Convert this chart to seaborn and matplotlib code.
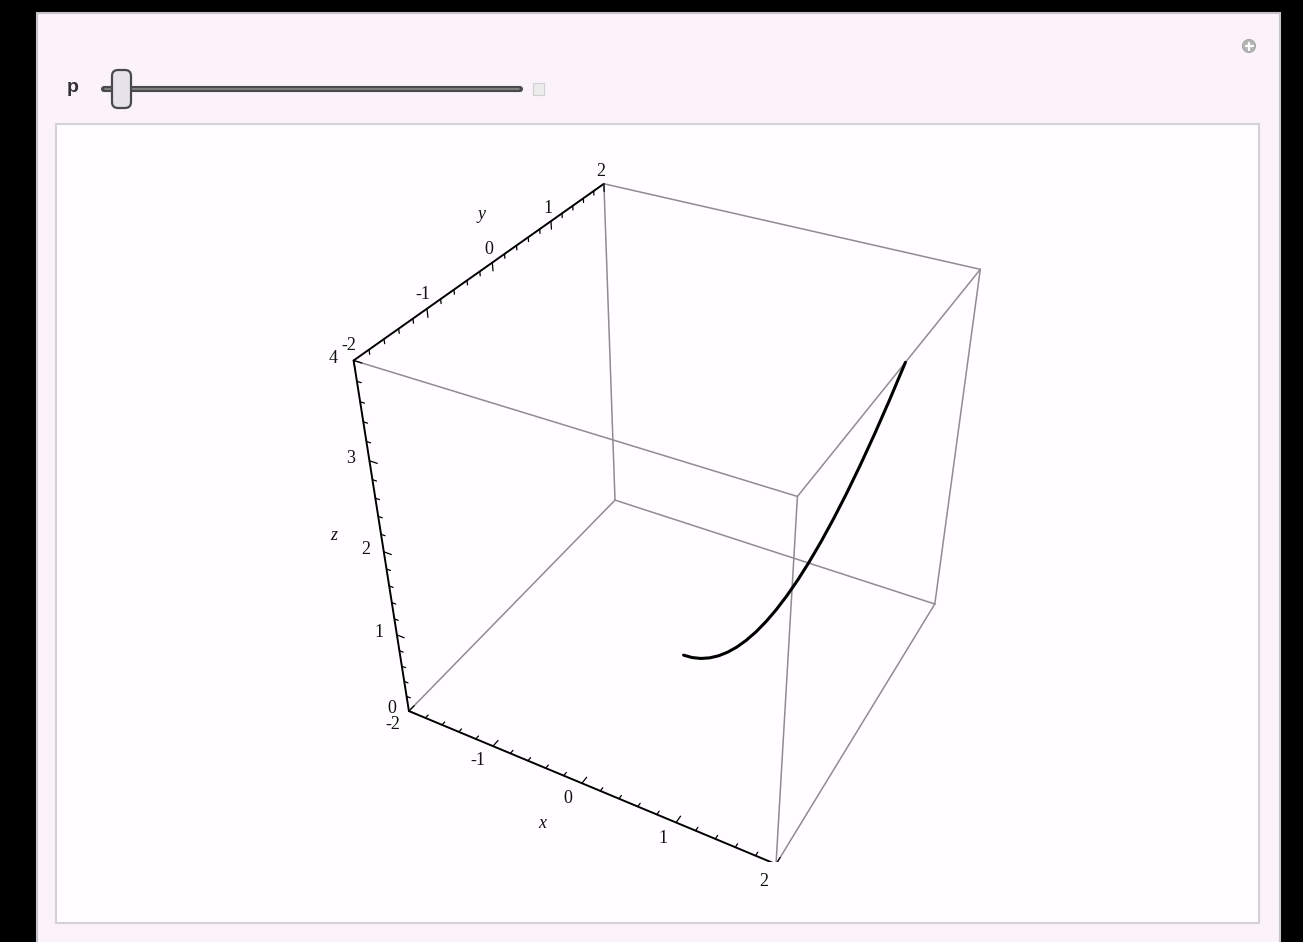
import numpy as np
import matplotlib
matplotlib.use("Agg")
import matplotlib.pyplot as plt
import seaborn as sns
from matplotlib.patches import Rectangle, FancyBboxPatch, Circle
from matplotlib.lines import Line2D
from matplotlib.transforms import Affine2D

# ---------------- data ----------------
x_range = [-2, 2]
y_range = [-2, 2]
z_range = [0, 4]
x_ticks = [-2, -1, 0, 1, 2]
y_ticks = [-2, -1, 0, 1, 2]
z_ticks = [0, 1, 2, 3, 4]
x_tick_labels = ["-2", "-1", "0", "1", "2"]
y_tick_labels = ["-2", "-1", "0", "1", "2"]
z_tick_labels = ["0", "1", "2", "3", "4"]
axis_labels = ["x", "y", "z"]
slider_label = "p"

curve_x = [0.0, 0.1, 0.2, 0.3, 0.4, 0.5, 0.6, 0.7, 0.8, 0.9, 1.0,
           1.1, 1.2, 1.3, 1.4, 1.5, 1.6, 1.7, 1.8, 1.9, 2.0]
curve_y = [0.0, 0.0, 0.001, 0.003, 0.005, 0.008, 0.011, 0.015, 0.019, 0.024, 0.03,
           0.036, 0.043, 0.051, 0.059, 0.068, 0.077, 0.087, 0.097, 0.108, 0.12]
curve_z = [0.0, 0.01, 0.04, 0.09, 0.16, 0.25, 0.36, 0.49, 0.64, 0.81, 1.0,
           1.21, 1.44, 1.69, 1.96, 2.25, 2.56, 2.89, 3.24, 3.61, 4.0]

sns.set_theme(style="white")
plt.rcParams["font.family"] = ["Liberation Serif", "DejaVu Serif"]

W, H = 1303, 942
fig = plt.figure(figsize=(W / 100, H / 100), dpi=100)
fig.patch.set_facecolor("black")
pix = Affine2D().scale(1, -1).translate(0, H)   # image pixels, y downward

# ---- window frame (Manipulate panel) ----
fig.add_artist(Rectangle((37, 13), 1243, 940, transform=pix, facecolor="#fbf2fa",
                         edgecolor="#c4c4c8", lw=1.5, zorder=-10))
fig.add_artist(Rectangle((56, 124), 1203, 799, transform=pix, facecolor="#fffdff",
                         edgecolor="#d4d2d6", lw=1.5, zorder=-9))
# slider
fig.add_artist(Line2D([104, 520], [89, 89], transform=pix, color="#4a4a4a", lw=4.4,
                      solid_capstyle="round", zorder=-6))
fig.add_artist(Line2D([105, 519], [89, 89], transform=pix, color="#8a8a8c", lw=1.2,
                      solid_capstyle="round", zorder=-5))
fig.add_artist(FancyBboxPatch((112, 70), 19, 38, boxstyle="round,pad=0,rounding_size=6",
                              transform=pix, facecolor="#e6e4ea", edgecolor="#4a4a4a",
                              lw=1.6, zorder=-4))
fig.text(73 / W, 1 - 88 / H, slider_label, family=["Liberation Sans"], fontsize=14,
         weight="bold", color="#333333", ha="center", va="center")
fig.add_artist(Rectangle((533, 83), 11, 12, transform=pix, facecolor="#ececec",
                         edgecolor="#d0d0d0", lw=0.8, zorder=-4))
fig.add_artist(Circle((1249, 46), 6.5, transform=pix, facecolor="#b4b4b4",
                      edgecolor="#a8a8a8", lw=0.8, zorder=-4))
fig.add_artist(Line2D([1245.5, 1252.5], [46, 46], transform=pix, color="white", lw=1.6, zorder=-3))
fig.add_artist(Line2D([1249, 1249], [42.5, 49.5], transform=pix, color="white", lw=1.6, zorder=-3))

# ---- 3D axes (view matching Mathematica's default ViewPoint) ----
ax = fig.add_axes([319.9 / W, 79.6 / H, 708.2 / W, 708.2 / H], projection="3d")
ax.set_xlim(x_range)
ax.set_ylim(y_range)
ax.set_zlim(z_range)
ax.set_box_aspect((1, 1, 1))
ax.view_init(elev=36.16, azim=-61.70, roll=0.0)
ax.set_proj_type("persp", focal_length=0.373)
ax.set_axis_off()
ax.set_facecolor((1, 1, 1, 0))
ax.computed_zorder = False

# ---- box edges ----
gray = "#8e8c90"
for yv in y_range:
    for zv in z_range:
        isax = (yv == y_range[0] and zv == z_range[0])
        ax.plot(x_range, [yv, yv], [zv, zv], color="black" if isax else gray,
                lw=1.4 if isax else 1.1, zorder=2)
for xv in x_range:
    for zv in z_range:
        isax = (xv == x_range[0] and zv == z_range[1])
        ax.plot([xv, xv], y_range, [zv, zv], color="black" if isax else gray,
                lw=1.4 if isax else 1.1, zorder=2)
for xv in x_range:
    for yv in y_range:
        isax = (xv == x_range[0] and yv == y_range[0])
        ax.plot([xv, xv], [yv, yv], z_range, color="black" if isax else gray,
                lw=1.4 if isax else 1.1, zorder=2)

# ---- ticks (major at integers, minor every 0.2) ----
for v in np.arange(x_range[0], x_range[1] + 0.001, 0.2):
    L = 0.085 if abs(v - round(v)) < 1e-6 else 0.045
    ax.plot([v, v], [y_range[0], y_range[0] + L], [z_range[0]] * 2, color="black", lw=0.9, zorder=3)
for v in np.arange(y_range[0], y_range[1] + 0.001, 0.2):
    L = 0.085 if abs(v - round(v)) < 1e-6 else 0.045
    ax.plot([x_range[0]] * 2, [v, v], [z_range[1], z_range[1] - L], color="black", lw=0.9, zorder=3)
for v in np.arange(z_range[0], z_range[1] + 0.001, 0.2):
    L = 0.085 if abs(v - round(v)) < 1e-6 else 0.045
    ax.plot([x_range[0], x_range[0] + L], [y_range[0]] * 2, [v, v], color="black", lw=0.9, zorder=3)

# ---- labels: 3D anchor points projected with the axes' own projection ----
M = ax.get_proj()


def label3d(xv, yv, zv, s, **kw):
    h = np.array([xv, yv, zv, 1.0]) @ M.T
    ax.text2D(h[0] / h[3], h[1] / h[3], s, transform=ax.transData,
              ha="center", va="center", **kw)


fs = 13
for v, s in zip(x_ticks, x_tick_labels):
    label3d(v, -2.25, 0.04, s, fontsize=fs, color="#111111")
for v, s in zip(y_ticks, y_tick_labels):
    label3d(-2.03, v, 4.13, s, fontsize=fs, color="#111111")
for v, s in zip(z_ticks, z_tick_labels):
    label3d(-2.17, -2.05, v, s, fontsize=fs, color="#111111")
label3d(0, -2.67, 0.12, axis_labels[0], fontsize=fs, style="italic", color="#111111")
label3d(-2.07, 0, 4.46, axis_labels[1], fontsize=fs, style="italic", color="#111111")
label3d(-2.55, -2.03, 2.0, axis_labels[2], fontsize=fs, style="italic", color="#111111")

# ---- curve ----
ax.plot(curve_x, curve_y, curve_z, color="black", lw=2.2, solid_capstyle="round", zorder=10)

fig.savefig("out.png", dpi=100, facecolor=fig.get_facecolor())
